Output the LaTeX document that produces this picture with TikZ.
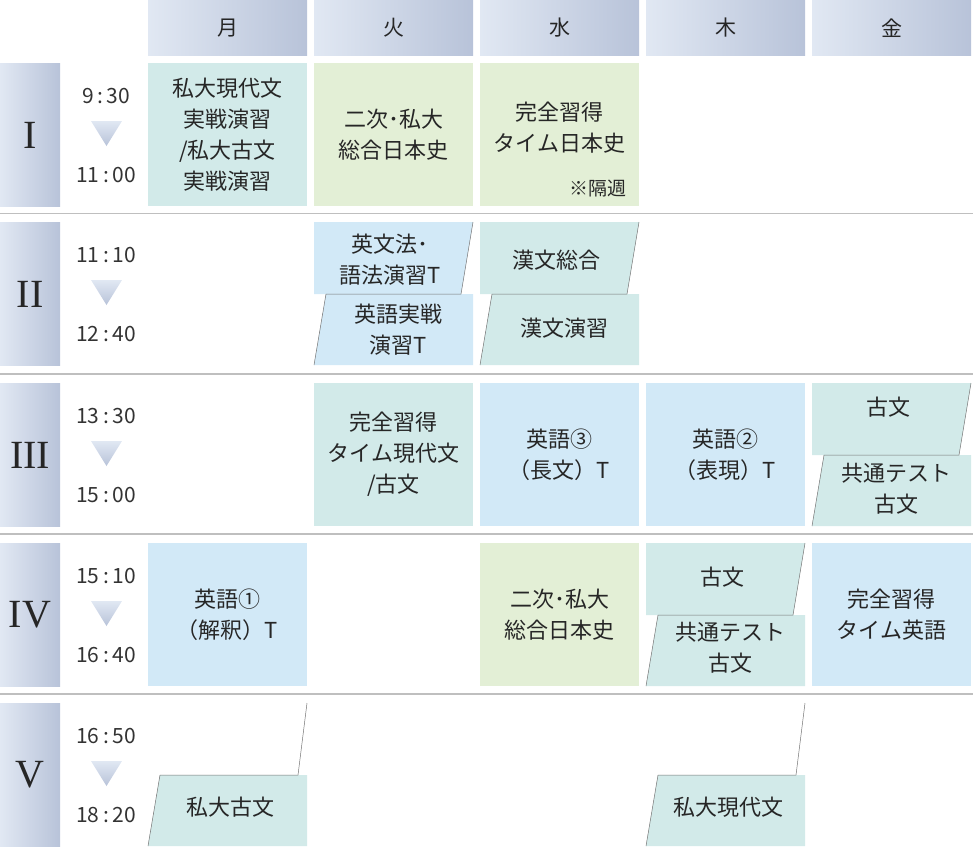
\documentclass[tikz,border=0pt]{standalone}
\usepackage{fontspec}
\setmainfont{Noto Sans CJK JP}
\newfontfamily\romanf{Liberation Serif}
\begin{document}
\begin{tikzpicture}[x=1pt,y=-1pt,
  txt/.style={align=center,font=\fontsize{22}{31}\selectfont,text=black!85,inner sep=0},
  tim/.style={font=\fontsize{21}{24}\selectfont,text=black!80,inner sep=0},
  hdr/.style={font=\fontsize{21}{24}\selectfont,text=black!85,inner sep=0},
  sep/.style={draw=black!25,line width=1.6pt},
  slant/.style={draw=black!55,line width=0.5pt}]
\definecolor{teal}{HTML}{D2EAE9}
\definecolor{grn}{HTML}{E3EFD6}
\definecolor{blu}{HTML}{D2E9F7}
\definecolor{hl}{HTML}{E1E8F3}
\definecolor{hr}{HTML}{B8C3D9}
\useasboundingbox (0,0) rectangle (973,846);
% header
\foreach \x/\d/\n in {148/月/h1,314/火/h2,480/水/h3,646/木/h4,812/金/h5}{
  \shade[left color=hl,right color=hr] (\x,0) rectangle (\x+159,55);
  \node[hdr] (\n) at (\x+79.5,28) {\d};
}
% separators
\foreach \y in {213.5,374,534,694} \draw[sep] (0,\y) -- (973,\y);
% row labels and times
\foreach \t/\r/\a/\b/\n in {63/I/9\,:\,30/11\,:\,00/r1,222/II/11\,:\,10/12\,:\,40/r2,383/III/13\,:\,30/15\,:\,00/r3,543/IV/15\,:\,10/16\,:\,40/r4,703/V/16\,:\,50/18\,:\,20/r5}{
  \shade[left color=hl,right color=hr] (0,\t) rectangle (60,\t+143);
  \node[inner sep=0,font=\romanf\fontsize{40}{40}\selectfont,text=black!85] (\n) at (30,\t+72) {\r};
  \node[tim] (\n a) at (106,\t+33) {\a};
  \shade[top color=hl,bottom color=hr] (91,\t+58) -- (122,\t+58) -- (106.5,\t+83) -- cycle;
  \node[tim] (\n b) at (106,\t+112) {\b};
}
% plain cells
\newcommand\cell[5]{\fill[#3] (#1,#2) rectangle (#1+159,#2+143);
  \node[txt] (#5) at (#1+79.5,#2+71.5) {#4};}
\cell{148}{63}{teal}{私大現代文\\実戦演習\\/私大古文\\実戦演習}{c11}
\cell{314}{63}{grn}{二次･私大\\総合日本史}{c12}
\fill[grn] (480,63) rectangle (639,206);
\node[txt] (c13) at (559.5,128) {完全習得\\タイム日本史};
\node[inner sep=0,font=\fontsize{19}{20}\selectfont,text=black!85] (c13n) at (598,188) {※隔週};
\cell{314}{383}{teal}{完全習得\\タイム現代文\\/古文}{c32}
\cell{480}{383}{blu}{英語③\\（長文）T}{c33}
\cell{646}{383}{blu}{英語②\\（表現）T}{c34}
\cell{148}{543}{blu}{英語①\\（解釈）T}{c41}
\cell{480}{543}{grn}{二次･私大\\総合日本史}{c43}
\cell{812}{543}{blu}{完全習得\\タイム英語}{c45}
% split cells
\newcommand\splitcell[8]{
  \fill[#3] (#1,#2) -- (#1+159,#2) -- (#1+147,#2+72) -- (#1,#2+72) -- cycle;
  \fill[#3] (#1+12,#2+72) -- (#1+159,#2+72) -- (#1+159,#2+143) -- (#1,#2+143) -- cycle;
  \draw[slant] (#1+159,#2) -- (#1+147,#2+72) -- (#1+12,#2+72) -- (#1,#2+143);
  \node[txt] (#8a) at (#1+76,#2+#5) {#4};
  \node[txt] (#8b) at (#1+84,#2+#7) {#6};}
\splitcell{314}{222}{blu}{英文法･\\語法演習T}{38}{英語実戦\\演習T}{108}{c22}
\splitcell{480}{222}{teal}{漢文総合}{38}{漢文演習}{106}{c23}
\splitcell{812}{383}{teal}{古文}{24}{共通テスト\\古文}{106}{c35}
\splitcell{646}{543}{teal}{古文}{34}{共通テスト\\古文}{105}{c44}
% lower-only cells
\newcommand\lowcell[4]{
  \fill[teal] (#1+12,#2+72) -- (#1+159,#2+72) -- (#1+159,#2+143) -- (#1,#2+143) -- cycle;
  \draw[slant] (#1+159,#2) -- (#1+150,#2+72) -- (#1+12,#2+72) -- (#1,#2+143);
  \node[txt] (#4) at (#1+82,#2+104) {#3};}
\lowcell{148}{703}{私大古文}{c51}
\lowcell{646}{703}{私大現代文}{c54}
\end{tikzpicture}
\end{document}
